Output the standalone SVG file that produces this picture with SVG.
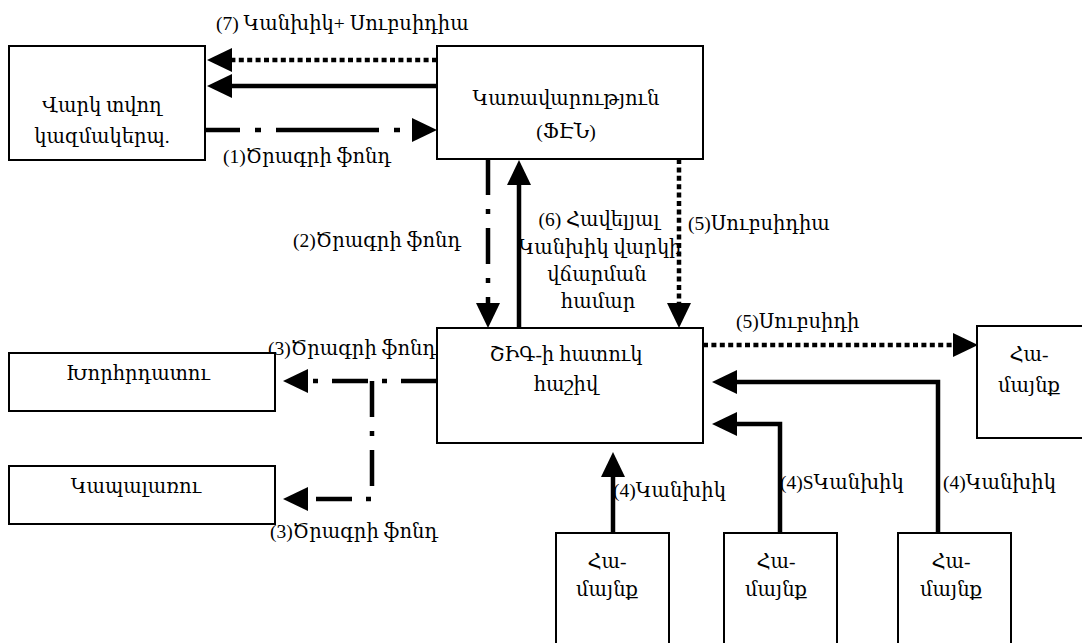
<svg xmlns="http://www.w3.org/2000/svg" width="1082" height="643" viewBox="0 0 1082 643">
<style>
  .box { fill: #fff; stroke: #000; stroke-width: 2; }
  text { font-family: "Liberation Serif", "DejaVu Serif", serif; font-size: 19.5px; fill: #000; }
  .c { text-anchor: middle; }
  .ln { fill: none; stroke: #000; stroke-width: 4.5; }
  .dot { stroke-dasharray: 5 3.4; }
  .dd { stroke-dasharray: 36 14 5 14; }
</style>
<defs>
  <marker id="ah" viewBox="0 0 25 24" markerWidth="25" markerHeight="24" refX="1" refY="12" orient="auto" markerUnits="userSpaceOnUse">
    <path d="M0,0 L25,12 L0,24 Z" fill="#000"/>
  </marker>
</defs>
<rect width="1082" height="643" fill="#fff"/>

<g id="connectors">
  <path class="ln dot" d="M437,60 H231" marker-end="url(#ah)"/>
  <path class="ln" d="M437,86 H231" marker-end="url(#ah)"/>
  <path class="ln" style="stroke-dasharray: 35 15 6 15 103 15 6 15" d="M205,130 H413" marker-end="url(#ah)"/>
  <path class="ln dd" d="M488,159 V304" marker-end="url(#ah)"/>
  <path class="ln" d="M519,328 V184" marker-end="url(#ah)"/>
  <path class="ln dot" d="M679,159 V304" marker-end="url(#ah)"/>
  <path class="ln dot" d="M703,345 H954" marker-end="url(#ah)"/>
  <path class="ln" d="M938,535 V382 H736" marker-end="url(#ah)"/>
  <path class="ln" d="M780,535 V424 H736" marker-end="url(#ah)"/>
  <path class="ln" d="M613,535 V476" marker-end="url(#ah)"/>
  <path class="ln dd" d="M437,381 H307" marker-end="url(#ah)"/>
  <path class="ln dd" d="M372,381 V499 H307" marker-end="url(#ah)"/>
</g>

<g id="labels">
  <text x="216" y="30">(7) Կանխիկ+ Սուբսիդիա</text>
  <text x="223" y="163">(1)Ծրագրի ֆոնդ</text>
  <text x="293" y="247">(2)Ծրագրի ֆոնդ</text>
  <text class="c" x="599" y="226">(6) Հավելյալ</text>
  <text class="c" x="600" y="254">Կանխիկ վարկի</text>
  <text class="c" x="597" y="281">վճարման</text>
  <text class="c" x="598" y="308">համար</text>
  <text x="688" y="230">(5)Սուբսիդիա</text>
  <text x="736" y="328">(5)Սուբսիդի</text>
  <text x="268" y="355">(3)Ծրագրի ֆոնդ</text>
  <text x="270" y="538">(3)Ծրագրի ֆոնդ</text>
  <text x="613" y="497">(4)Կանխիկ</text>
  <text x="780" y="489">(4)SԿանխիկ</text>
  <text x="943" y="489">(4)Կանխիկ</text>
</g>

<g id="n-vark">
  <rect class="box" x="9" y="46" width="196" height="114"/>
  <text class="c" x="102" y="112">Վարկ տվող</text>
  <text class="c" x="102" y="143">կազմակերպ.</text>
</g>
<g id="n-karavarutyun">
  <rect class="box" x="437" y="46" width="266" height="113"/>
  <text class="c" x="566" y="105">Կառավարություն</text>
  <text class="c" x="566" y="138">(ՖԷՆ)</text>
</g>
<g id="n-shig">
  <rect class="box" x="437" y="328" width="266" height="115"/>
  <text class="c" x="566" y="361">ՇԻԳ-ի հատուկ</text>
  <text class="c" x="566" y="391">հաշիվ</text>
</g>
<g id="n-khorhrdatu">
  <rect class="box" x="9" y="353" width="266" height="58"/>
  <text class="c" x="138" y="380">Խորհրդատու</text>
</g>
<g id="n-kapalarru">
  <rect class="box" x="9" y="466" width="266" height="58"/>
  <text class="c" x="136" y="493">Կապալառու</text>
</g>
<g id="n-hamaynq-right">
  <rect class="box" x="977" y="326" width="113" height="112"/>
  <text class="c" x="1029" y="361">Հա-</text>
  <text class="c" x="1029" y="392">մայնք</text>
</g>
<g id="n-hamaynq-1">
  <rect class="box" x="556" y="533" width="113" height="120"/>
  <text class="c" x="607" y="568">Հա-</text>
  <text class="c" x="607" y="596">մայնք</text>
</g>
<g id="n-hamaynq-2">
  <rect class="box" x="724" y="533" width="113" height="120"/>
  <text class="c" x="776" y="568">Հա-</text>
  <text class="c" x="776" y="596">մայնք</text>
</g>
<g id="n-hamaynq-3">
  <rect class="box" x="898" y="533" width="113" height="120"/>
  <text class="c" x="951" y="568">Հա-</text>
  <text class="c" x="951" y="596">մայնք</text>
</g>
</svg>
